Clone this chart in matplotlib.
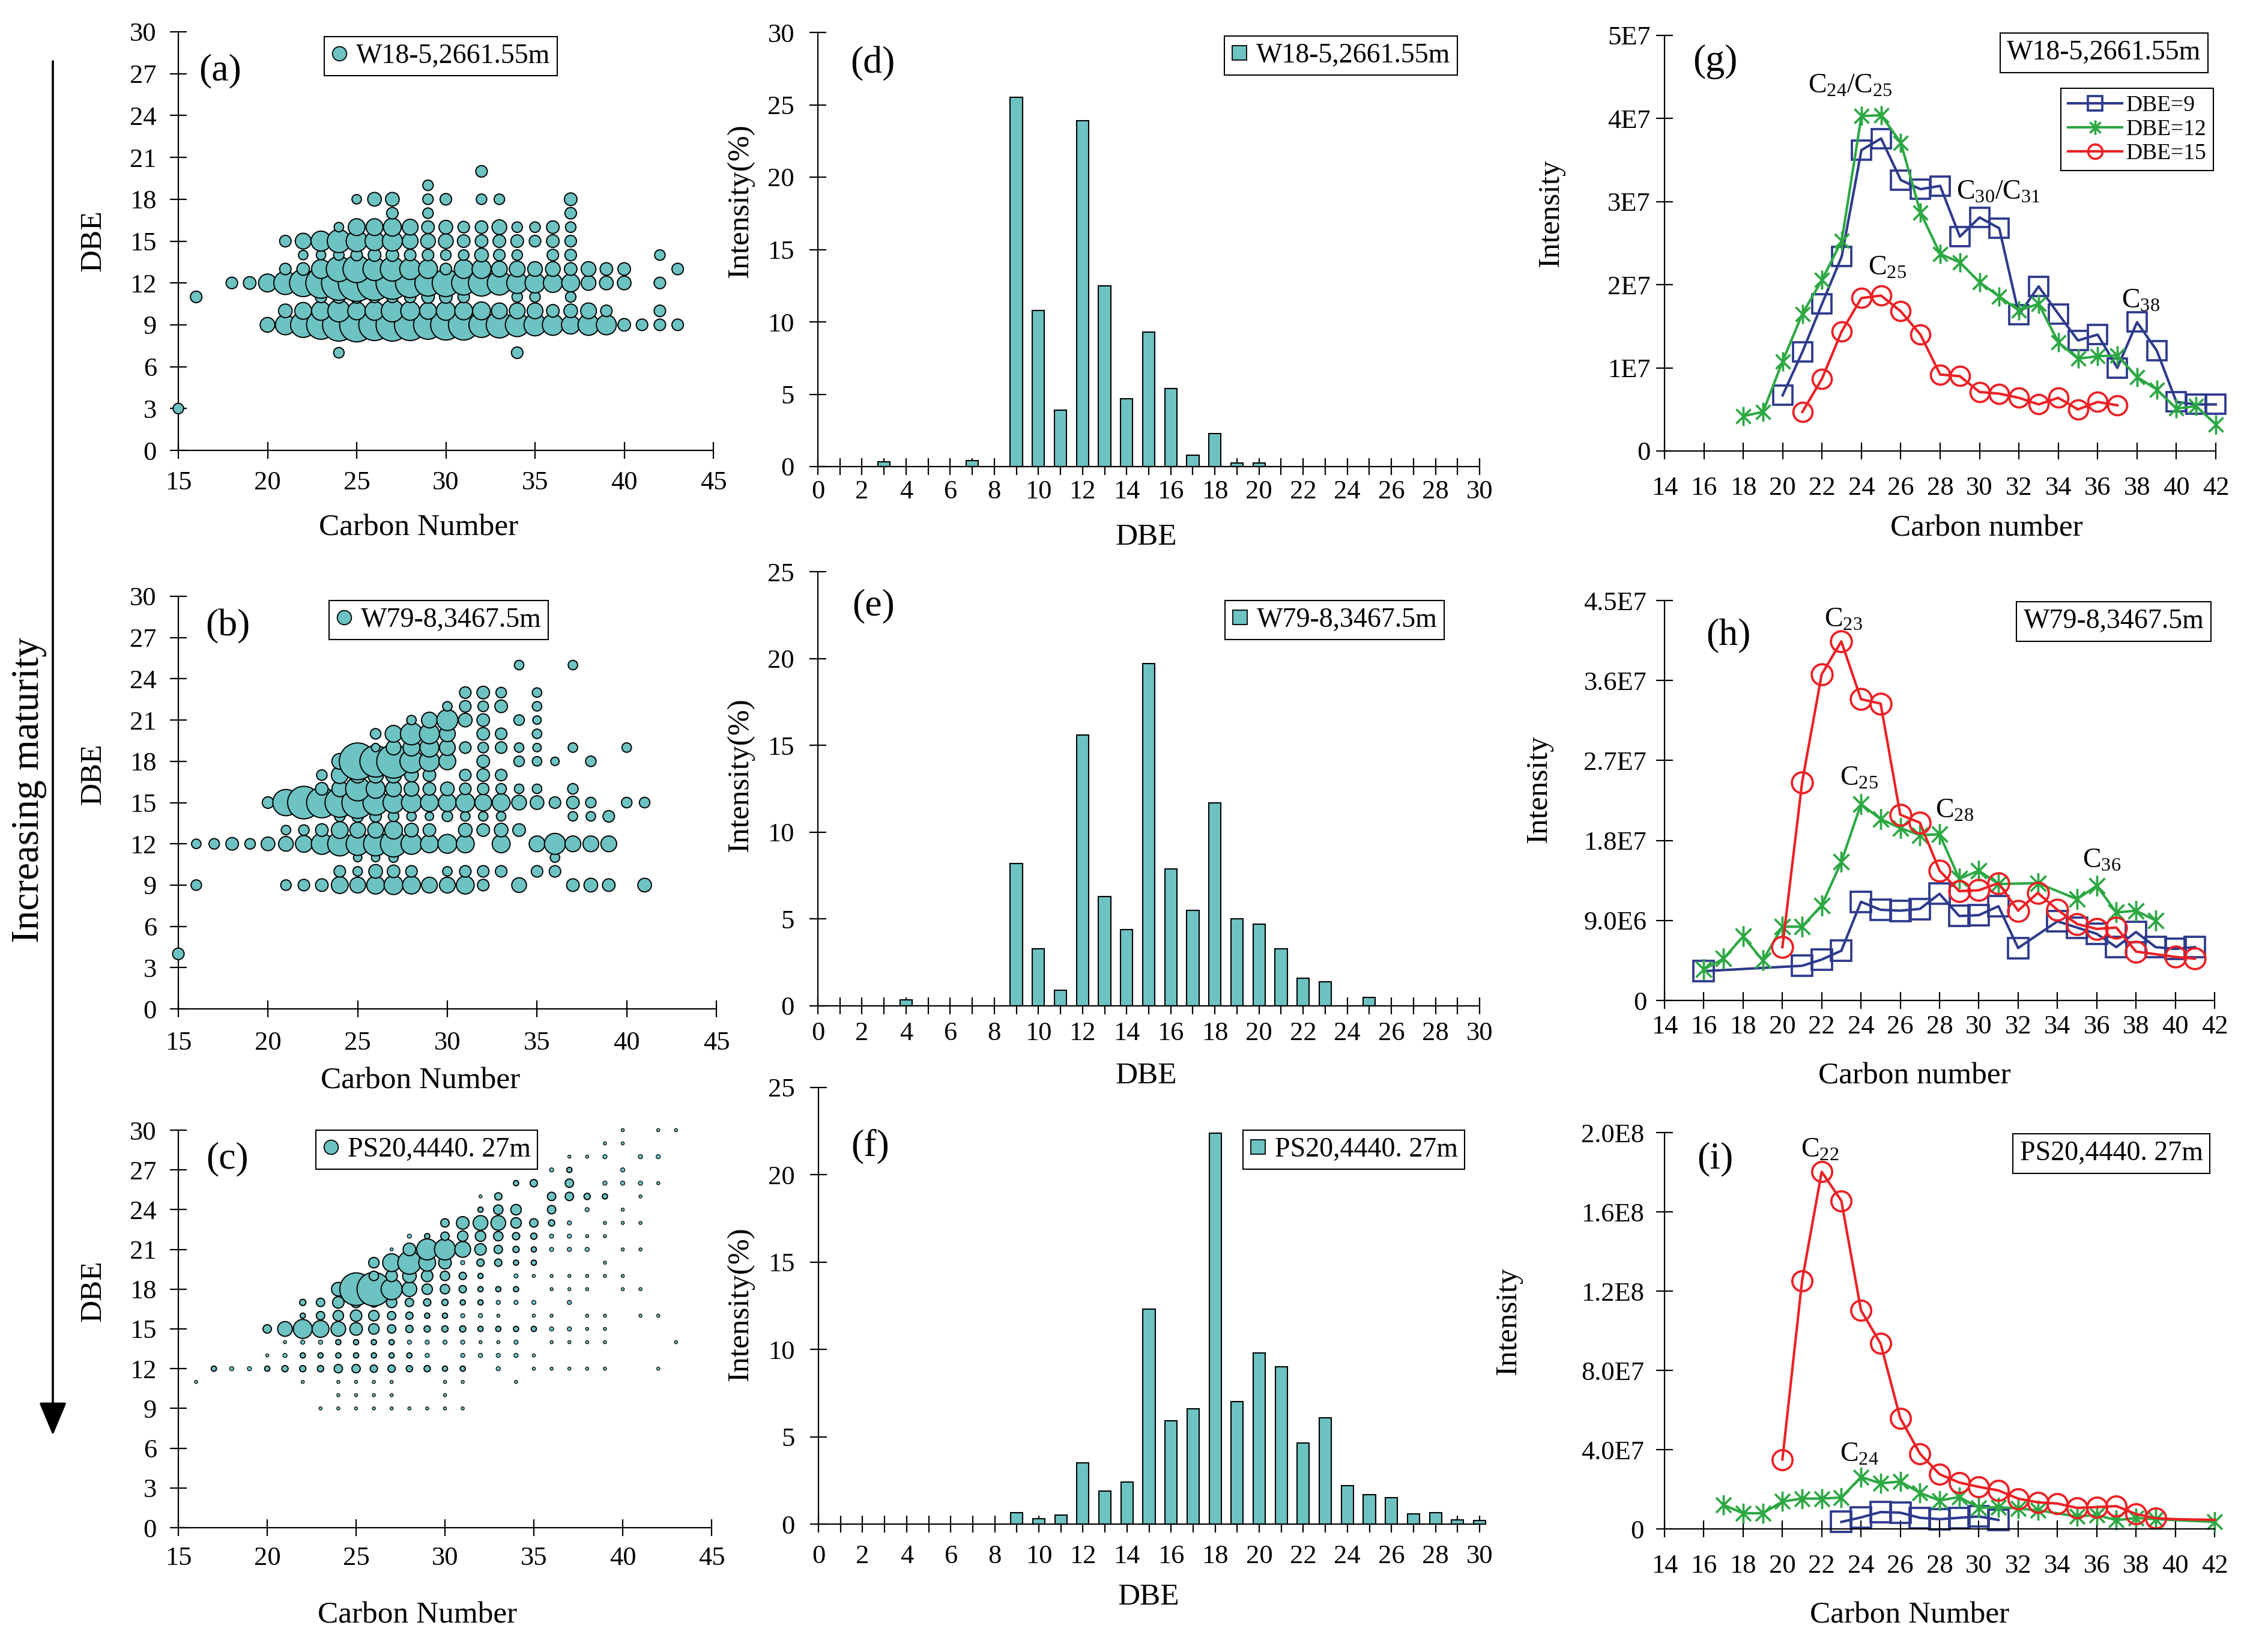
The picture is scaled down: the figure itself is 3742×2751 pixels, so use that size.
import numpy as np
import matplotlib
matplotlib.use("Agg")
import matplotlib.pyplot as plt
from matplotlib.lines import Line2D
from matplotlib.path import Path
from matplotlib.patches import FancyArrowPatch

plt.rcParams["font.family"] = ["Liberation Serif", "DejaVu Serif"]
plt.rcParams["mathtext.fontset"] = "custom"
plt.rcParams["mathtext.rm"] = "Liberation Serif"
plt.rcParams["mathtext.it"] = "Liberation Serif:italic"

W, H = 3742, 2751
TEAL = "#6DC2C2"
BLUE = "#2E3A8C"
GREEN = "#2CA843"
RED = "#EC2024"

samples = ["W18-5,2661.55m", "W79-8,3467.5m", "PS20,4440. 27m"]

# ---- bubble plots: {DBE: (first carbon number, bubble sizes)}; 0 = no peak
a_rows = {
    3: (15, [20]),
    7: (24, [20, 0, 0, 0, 0, 0, 0, 0, 0, 0, 22]),
    9: (20, [28, 38, 48, 55, 62, 65, 60, 62, 60, 55, 58, 58, 48, 50, 45, 42, 40, 35, 40, 38, 24, 22, 22, 22]),
    10: (21, [26, 32, 36, 42, 34, 36, 42, 36, 32, 36, 34, 34, 30, 30, 30, 24, 26, 30, 22, 0, 0, 22]),
    11: (16, [22, 0, 0, 0, 0, 0, 0, 22, 24, 24, 22, 22, 22, 24, 24, 22, 0, 0, 20, 20, 0, 20]),
    12: (18, [22, 24, 34, 44, 52, 58, 66, 70, 66, 62, 56, 50, 52, 46, 50, 46, 40, 38, 36, 34, 28, 26, 26, 0, 22]),
    13: (21, [22, 24, 36, 48, 52, 44, 46, 40, 36, 22, 36, 36, 30, 30, 28, 28, 24, 28, 24, 24, 0, 0, 22]),
    14: (22, [18, 18, 20, 22, 24, 24, 22, 22, 20, 20, 26, 22, 20, 0, 22, 22, 0, 0, 0, 0, 20]),
    15: (21, [22, 30, 38, 44, 40, 36, 38, 30, 28, 28, 24, 24, 24, 24, 22, 24, 22]),
    16: (24, [18, 32, 32, 34, 30, 24, 26, 22, 24, 28, 20, 20, 24, 20]),
    17: (27, [22, 0, 20, 0, 0, 0, 0, 0, 0, 0, 22]),
    18: (25, [18, 26, 26, 0, 20, 22, 0, 20, 20, 0, 0, 0, 24]),
    19: (29, [20]),
    20: (32, [22]),
}
b_rows = {
    4: (15, [22]),
    9: (16, [20, 0, 0, 0, 0, 20, 22, 24, 32, 30, 34, 36, 34, 30, 30, 34, 22, 0, 28, 0, 0, 24, 26, 24, 0, 26]),
    10: (24, [22, 18, 26, 24, 22, 0, 18, 22, 22, 22, 0, 22, 22]),
    11: (25, [16, 16, 18, 0, 0, 0, 0, 0, 0, 0, 0, 18]),
    12: (16, [18, 20, 24, 20, 26, 28, 32, 40, 46, 44, 46, 50, 40, 34, 36, 34, 0, 34, 0, 30, 40, 30, 30, 30]),
    13: (21, [18, 20, 24, 32, 30, 30, 34, 26, 24, 0, 26, 24, 26, 24]),
    14: (24, [20, 22, 22, 20, 18, 16, 20, 18, 18, 18, 0, 0, 0, 18, 18, 22]),
    15: (20, [22, 50, 62, 58, 56, 60, 48, 40, 38, 34, 34, 36, 32, 34, 28, 26, 22, 24, 20, 0, 20, 20]),
    16: (23, [24, 30, 46, 36, 30, 28, 24, 26, 22, 22, 20, 18, 18, 0, 20]),
    17: (23, [20, 32, 30, 30, 30, 26, 24, 0, 22, 24, 22]),
    18: (24, [30, 70, 60, 64, 44, 38, 32, 0, 24, 0, 20, 18, 16, 0, 20]),
    19: (26, [16, 28, 32, 36, 30, 22, 20, 22, 18, 16, 0, 18, 0, 0, 18]),
    20: (26, [20, 32, 42, 38, 30, 0, 24, 22, 0, 18]),
    21: (28, [18, 30, 40, 26, 24, 0, 20, 16]),
    22: (30, [18, 22, 20, 24, 0, 18]),
    23: (31, [22, 24, 20, 0, 18]),
    25: (34, [18, 0, 0, 18]),
}
c_rows = {
    9: (23, [6, 6, 6, 6, 6, 6, 6, 6, 6]),
    10: (24, [6, 6, 6, 6, 0, 0, 6]),
    11: (16, [6, 0, 0, 0, 0, 0, 6, 0, 6, 6, 6, 6, 0, 0, 6, 6, 0, 0, 6]),
    12: (17, [10, 8, 8, 10, 12, 12, 12, 16, 16, 14, 14, 12, 12, 10, 10, 0, 8, 0, 6, 6, 6, 6, 6, 0, 0, 6]),
    13: (20, [6, 8, 10, 10, 10, 10, 10, 10, 10, 8, 0, 8, 8, 8, 8, 6]),
    14: (21, [6, 8, 8, 10, 10, 10, 10, 8, 8, 8, 8, 6, 6, 8, 0, 6, 6, 6, 6, 0, 0, 0, 6]),
    15: (20, [16, 28, 36, 32, 28, 24, 20, 16, 14, 12, 12, 12, 10, 10, 10, 10, 8, 8, 6, 6]),
    16: (22, [10, 16, 20, 22, 20, 16, 14, 10, 10, 8, 8, 6, 0, 6, 6, 0, 6, 6, 0, 6, 6]),
    17: (22, [12, 16, 22, 20, 18, 20, 16, 14, 12, 10, 10, 8, 8, 8, 0, 8]),
    18: (24, [26, 62, 64, 40, 28, 20, 18, 14, 10, 10, 10, 0, 6, 6, 6, 0, 6, 6]),
    19: (26, [18, 22, 26, 22, 18, 14, 10, 0, 8, 6, 6, 6, 6, 6, 6]),
    20: (26, [20, 34, 44, 32, 24, 8, 14, 14, 10, 10, 0, 0, 0, 6]),
    21: (27, [6, 24, 40, 40, 30, 22, 16, 12, 10, 8, 8, 8, 0, 6, 6]),
    22: (28, [8, 10, 16, 20, 20, 18, 14, 12, 8, 8, 6, 6]),
    23: (30, [16, 24, 28, 28, 20, 16, 12, 8, 0, 6, 6, 6]),
    24: (32, [10, 18, 20, 0, 16, 0, 8, 0, 6]),
    25: (32, [6, 14, 0, 0, 16, 16, 12, 10, 0, 6]),
    26: (34, [10, 14, 0, 16, 0, 8, 8, 8, 6]),
    27: (36, [8, 10, 0, 0, 8]),
    28: (37, [6, 6, 8, 0, 8, 8]),
    29: (39, [6, 6]),
    30: (40, [6, 0, 6, 6]),
}

# ---- DBE distribution (%), DBE 0..30
dbe = np.arange(0, 31)
d_int = [0, 0, 0, 0.35, 0, 0, 0, 0.4, 0, 25.5, 10.8, 3.9, 23.9, 12.5, 4.7, 9.3, 5.4, 0.8, 2.3, 0.25, 0.25,
         0, 0, 0, 0, 0, 0, 0, 0, 0, 0]
e_int = [0, 0, 0, 0, 0.34, 0, 0, 0, 0, 8.2, 3.3, 0.9, 15.6, 6.3, 4.4, 19.7, 7.9, 5.5, 11.7, 5.0, 4.7,
         3.3, 1.6, 1.4, 0, 0.5, 0, 0, 0, 0, 0]
f_int = [0, 0, 0, 0, 0, 0, 0, 0, 0, 0.67, 0.3, 0.5, 3.5, 1.9, 2.4, 12.3, 5.9, 6.6, 22.4, 7.0, 9.8,
         9.0, 4.65, 6.1, 2.2, 1.7, 1.5, 0.57, 0.65, 0.25, 0.2]

# ---- intensity vs carbon number (x 1E6)
g9_c = list(range(20, 43))
g9_v = [6.7, 11.9, 17.7, 23.4, 36.2, 37.6, 32.6, 31.5, 31.9, 25.8, 28.1, 26.8, 16.4, 19.8, 16.5, 13.3,
        14.0, 10.0, 15.5, 12.1, 5.9, 5.6, 5.6]
g12_c = list(range(18, 43))
g12_v = [4.2, 4.7, 10.8, 16.5, 20.6, 25.3, 40.3, 40.4, 37.1, 28.7, 23.7, 22.7, 20.3, 18.6, 16.9, 17.7,
         13.1, 11.1, 11.4, 11.5, 8.9, 7.4, 5.1, 5.4, 3.2]
g15_c = list(range(21, 38))
g15_v = [4.7, 8.7, 14.4, 18.4, 18.7, 16.8, 14.0, 9.2, 9.0, 7.1, 6.9, 6.4, 5.6, 6.4, 5.0, 5.9, 5.5]

h9_c = [16, 21, 22, 23, 24, 25, 26, 27, 28, 29, 30, 31, 32, 34, 35, 36, 37, 38, 39, 40, 41]
h9_v = [3.3, 3.9, 4.6, 5.6, 11.1, 10.2, 10.1, 10.3, 12.0, 9.5, 9.6, 10.6, 5.9, 8.9, 8.2, 7.5, 6.0, 7.7,
        6.0, 5.8, 6.0]
h12_c = [16, 17, 18, 19, 20, 21, 22, 23, 24, 25, 26, 27, 28, 29, 30, 31, 33, 35, 36, 37, 38, 39]
h12_v = [3.5, 4.7, 7.2, 4.5, 8.3, 8.3, 10.7, 15.6, 22.1, 20.4, 19.4, 18.6, 18.7, 13.7, 14.6, 13.1, 13.2,
         11.4, 12.9, 9.9, 10.1, 9.0]
h15_c = list(range(20, 39)) + [40, 41]
h15_v = [6.0, 24.5, 36.7, 40.4, 33.9, 33.4, 20.9, 20.0, 14.6, 12.3, 12.4, 13.2, 10.1, 12.1, 10.2, 8.6,
         8.05, 8.2, 5.5, 4.9, 4.7]

i9_c = list(range(23, 32))
i9_v = [3.5, 5.8, 8.5, 8.2, 5.6, 4.9, 5.6, 6.3, 4.5]
i12_c = list(range(17, 34)) + [35, 36, 37, 38, 39, 42]
i12_v = [12.1, 7.9, 7.9, 13.8, 15.3, 15.3, 15.8, 26.2, 23.0, 23.9, 18.2, 14.3, 16.1, 10.6, 11.0, 10.3,
         9.4, 6.3, 7.0, 4.4, 5.5, 4.9, 3.5]
i15_c = list(range(20, 43))
i15_v = [35.0, 125.2, 180.2, 165.6, 110.3, 93.5, 55.9, 38.0, 27.6, 23.4, 21.2, 19.4, 15.3, 13.4, 12.8,
         10.6, 11.0, 11.5, 7.5, 5.4, 4.9, 4.7, 4.6]


def expand(rows):
    xs, ys, ds = [], [], []
    for level, (c0, sizes) in rows.items():
        for k, d in enumerate(sizes):
            if d > 0:
                xs.append(c0 + k)
                ys.append(level)
                ds.append(d)
    return np.array(xs), np.array(ys), np.array(ds, float)


fig = plt.figure(figsize=(W / 100, H / 100), dpi=100)


def px_axes(x0, x1, y0, y1):
    return fig.add_axes([x0 / W, 1 - y1 / H, (x1 - x0) / W, (y1 - y0) / H])


def style(ax, padx, pady):
    for s in ("top", "right"):
        ax.spines[s].set_visible(False)
    for s in ("left", "bottom"):
        ax.spines[s].set_linewidth(1.6)
    ax.tick_params(which="both", direction="inout", length=20, width=1.6, labelsize=32)
    ax.tick_params(axis="x", which="both", pad=padx)
    ax.tick_params(axis="y", pad=pady)


def ftext(x, y, s, **kw):
    fig.text(x / W, 1 - y / H, s, ha="center", va="center", **kw)


def sample_legend(ax, label, marker, x0, y0):
    hnd = Line2D([], [], ls="none", marker=marker, ms=17, mfc=TEAL, mec="black", mew=1.3)
    leg = ax.legend([hnd], [label], loc="upper left", bbox_to_anchor=(x0 / W, 1 - y0 / H),
                    bbox_transform=fig.transFigure, fontsize=33, fancybox=False, edgecolor="black",
                    framealpha=1, borderpad=0.25, handlelength=0.6, handletextpad=0.3, borderaxespad=0)
    leg.get_frame().set_linewidth(1.5)


# ---------------- bubble plots (a-c)
bubble_specs = [
    (a_rows, (297, 1188, 53, 750), "(a)", (367, 118), (540, 61), (697, 879), (155, 401), 14.5),
    (b_rows, (297, 1193, 993, 1680), "(b)", (379, 1043), (548, 1000), (700, 1800), (155, 1289), 17),
    (c_rows, (297, 1185, 1882, 2544), "(c)", (379, 1930), (526, 1882), (695, 2690), (155, 2150), 12),
]
for k, (rows, rect, tag, tpos, lpos, xl, yl, padx) in enumerate(bubble_specs):
    ax = px_axes(*rect)
    xs, ys, ds = expand(rows)
    ax.scatter(xs, ys, s=(0.63 * ds) ** 2, c=TEAL, edgecolors="black",
               linewidths=np.where(ds <= 8, 0.9, 1.4), clip_on=False, zorder=3)
    ax.set_xlim(15, 45)
    ax.set_ylim(0, 30)
    ax.set_xticks(range(15, 46, 5))
    ax.set_yticks(range(0, 31, 3))
    style(ax, padx, 16)
    sample_legend(ax, samples[k], "o", *lpos)
    ftext(*tpos, tag, fontsize=46)
    ftext(*xl, "Carbon Number", fontsize=37)
    ftext(*yl, "DBE", fontsize=37, rotation=90)

# ---------------- DBE distributions (d-f)
bar_specs = [
    (d_int, (1362, 2464, 54, 777), 30, "(d)", (1453, 106), (2039, 60), (1909, 895), (1233, 335), 6),
    (e_int, (1362, 2464, 952, 1675), 25, "(e)", (1455, 1009), (2040, 1000), (1909, 1792), (1233, 1291), 9),
    (f_int, (1363, 2464, 1811, 2538), 25, "(f)", (1449, 1909), (2070, 1882), (1913, 2660), (1233, 2172), 14.5),
]
for k, (vals, rect, ymax, tag, tpos, lpos, xl, yl, padx) in enumerate(bar_specs):
    ax = px_axes(*rect)
    vals = np.array(vals)
    keep = vals > 0
    ax.bar(dbe[keep], vals[keep], width=0.55, color=TEAL, edgecolor="black", linewidth=1.5,
           clip_on=False, zorder=2)
    ax.set_xlim(0, 30)
    ax.set_ylim(0, ymax)
    ax.set_xticks(range(0, 31, 2))
    ax.set_xticks(range(1, 30, 2), minor=True)
    ax.set_yticks(range(0, ymax + 1, 5))
    style(ax, padx, 18)
    sample_legend(ax, samples[k], "s", *lpos)
    ftext(*tpos, tag, fontsize=46)
    ftext(*xl, "DBE", fontsize=37)
    ftext(*yl, "Intensity(%)", fontsize=37, rotation=90)

# ---------------- intensity vs carbon number (g-i)
STAR = Path([(0, -1), (0, 1), (-0.75, -0.75), (0.75, 0.75), (-0.75, 0.75), (0.75, -0.75)],
            [Path.MOVETO, Path.LINETO] * 3)

line_specs = [
    ((g9_c, g9_v), (g12_c, g12_v), (g15_c, g15_v), (2772, 3690, 59, 751), 50,
     ["0", "1E7", "2E7", "3E7", "4E7", "5E7"], "(g)", (2856, 103), (3504, 88),
     (3308, 880), (2583, 355), "Carbon number", 20, 7, 23,
     [(23.45, 43.9, r"C$_{24}$/C$_{25}$"), (30.95, 31.1, r"C$_{30}$/C$_{31}$"),
      (25.3, 22.0, r"C$_{25}$"), (38.2, 18.0, r"C$_{38}$")]),
    ((h9_c, h9_v), (h12_c, h12_v), (h15_c, h15_v), (2772, 3688, 1000, 1666), 45,
     ["0", "9.0E6", "1.8E7", "2.7E7", "3.6E7", "4.5E7"], "(h)", (2878, 1058), (3520, 1035),
     (3188, 1792), (2563, 1314), "Carbon number", 7, 11.5, 25,
     [(23.1, 42.8, r"C$_{23}$"), (23.9, 25.0, r"C$_{25}$"), (28.75, 21.35, r"C$_{28}$"),
      (36.25, 15.7, r"C$_{36}$")]),
    ((i9_c, i9_v), (i12_c, i12_v), (i15_c, i15_v), (2772, 3688, 1886, 2546), 200,
     ["0", "4.0E7", "8.0E7", "1.2E8", "1.6E8", "2.0E8"], "(i)", (2856, 1930), (3516, 1921),
     (3180, 2690), (2512, 2200), "Carbon Number", 20, 14.5, 24,
     [(21.9, 191.0, r"C$_{22}$"), (23.9, 37.3, r"C$_{24}$")]),
]
for k, (s9, s12, s15, rect, ymax, ylabs, tag, tpos, bpos, xl, yl, xname, padx, pady, ms, notes) \
        in enumerate(line_specs):
    ax = px_axes(*rect)
    l9, = ax.plot(*s9, color=BLUE, lw=3.0, marker="s", ms=ms, mfc="none", mec=BLUE, mew=2.7,
                  clip_on=False, label="DBE=9")
    l12, = ax.plot(*s12, color=GREEN, lw=3.0, marker=STAR, ms=ms, mec=GREEN, mew=2.7,
                   clip_on=False, label="DBE=12")
    every = list(range(20)) if k == 2 else None
    l15, = ax.plot(*s15, color=RED, lw=3.0, marker="o", ms=ms, mfc="none", mec=RED, mew=2.7,
                   markevery=every, clip_on=False, label="DBE=15")
    ax.set_xlim(14, 42)
    ax.set_ylim(0, ymax)
    ax.set_xticks(range(14, 43, 2))
    ax.set_yticks(np.linspace(0, ymax, 6))
    ax.set_yticklabels(ylabs)
    style(ax, padx, pady)
    for x, y, s in notes:
        ax.text(x, y, s, fontsize=33, ha="center", va="center")
    if k == 0:
        leg = ax.legend(handles=[l9, l12, l15], loc="upper right",
                        bbox_to_anchor=(3686 / W, 1 - 147 / H), bbox_transform=fig.transFigure,
                        fontsize=27, fancybox=False, edgecolor="black", framealpha=1,
                        handlelength=2.4, handletextpad=0.2, labelspacing=0.15, borderpad=0.3,
                        markerscale=0.75, borderaxespad=0)
        leg.get_frame().set_linewidth(1.5)
    ftext(*tpos, tag, fontsize=46)
    ftext(*bpos, samples[k], fontsize=33,
          bbox=dict(boxstyle="square,pad=0.25", fc="white", ec="black", lw=1.5))
    ftext(*xl, xname, fontsize=37)
    ftext(*yl, "Intensity", fontsize=37, rotation=90)

# ---------------- maturity arrow
arrow = FancyArrowPatch((88 / W, 1 - 102 / H), (88 / W, 1 - 2390 / H), transform=fig.transFigure,
                        arrowstyle="-|>,head_length=1.15,head_width=0.48", mutation_scale=30,
                        lw=2.6, color="black", shrinkA=0, shrinkB=0)
fig.add_artist(arrow)
ftext(48, 1316, "Increasing maturity", fontsize=47, rotation=90)

fig.savefig("out.png", dpi=100)
